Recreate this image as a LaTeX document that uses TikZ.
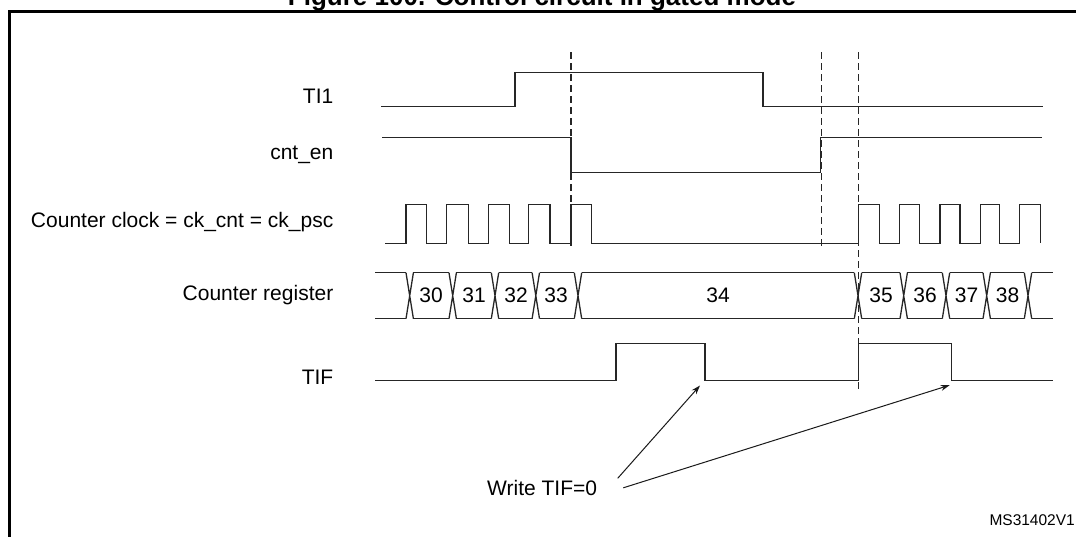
\documentclass[tikz,border=0pt]{standalone}
\usepackage{fontspec}
\setmainfont{Liberation Sans}
\usetikzlibrary{arrows.meta}
\begin{document}
\begin{tikzpicture}[x=1pt,y=-1pt,
  sig/.style={line width=1.3pt,draw=black!85,line join=miter},
  guide/.style={line width=1.2pt,draw=black!85,dash pattern=on 6.5pt off 4.5pt},
  lbl/.style={font=\fontsize{21}{24}\selectfont,inner sep=0pt,anchor=east},
  val/.style={font=\fontsize{21}{24}\selectfont,inner sep=0pt},
  note/.style={line width=1pt,draw=black!90,-{Stealth[length=9pt,width=6pt]}}]
\useasboundingbox (0,0) rectangle (1076,536);
% frame and title
\draw[line width=2.4pt] (1090,11.5) -- (9.5,11.5) -- (9.5,550);
\node[font=\fontsize{26}{30}\selectfont\bfseries,inner sep=0pt,anchor=base] (title) at (542,5) {Figure 100. Control circuit in gated mode};
% labels
\node[lbl] (lti) at (333.5,96.7) {TI1};
\node[lbl] (len) at (333.5,155) {cnt\_en};
\node[lbl] (lck) at (333.5,222.3) {Counter clock = ck\_cnt = ck\_psc};
\node[lbl] (lcr) at (333.5,295) {Counter register};
\node[lbl] (ltf) at (333.5,377.3) {TIF};
% TI1
\draw[sig] (381,106.5) -- (515,106.5) -- (515,72.3) -- (763,72.3) -- (763,106.5) -- (1043,106.5);
% cnt_en
\draw[sig] (382,137.3) -- (571,137.3) -- (571,172.3) -- (820.7,172.3) -- (820.7,137.3) -- (1041.7,137.3);
% clock
\draw[sig] (385,243.3)
  foreach \r/\f in {406/426.7,446.5/468.3,488.3/509.3,528.3/550,571/591.7}
    { -- (\r,243.3) -- (\r,204.3) -- (\f,204.3) -- (\f,243.3) }
  foreach \r/\f in {858.5/879.3,899.3/919.3,940/960,980.7/999.3,1019.3/1040.7}
    { -- (\r,243.3) -- (\r,204.3) -- (\f,204.3) -- (\f,243.3) };
% counter register
\def\ct{272.7}\def\cb{318.7}\def\hw{3.7}
\draw[sig] (375,\ct) -- (409.7-\hw,\ct) (375,\cb) -- (409.7-\hw,\cb);
\foreach \a/\b in {409.7/452.7,452.7/495,495/535.8,535.8/578,578/858,858/903.7,903.7/946,946/986.7,986.7/1028}
  \draw[sig] (\a+\hw,\ct) -- (\b-\hw,\ct) (\a+\hw,\cb) -- (\b-\hw,\cb);
\foreach \c in {409.7,452.7,495,535.8,578,858,903.7,946,986.7,1028}
  \draw[sig] (\c-\hw,\ct) -- (\c+\hw,\cb) (\c-\hw,\cb) -- (\c+\hw,\ct);
\draw[sig] (1028+\hw,\ct) -- (1053.3,\ct) (1028+\hw,\cb) -- (1053.3,\cb);
\node[val] (v30) at (431,295.7) {30};
\node[val] (v31) at (474,295.7) {31};
\node[val] (v32) at (516,295.7) {32};
\node[val] (v33) at (556,295.7) {33};
\node[val] (v34) at (718,295.7) {34};
\node[val] (v35) at (881,295.7) {35};
\node[val] (v36) at (925,295.7) {36};
\node[val] (v37) at (966.5,295.7) {37};
\node[val] (v38) at (1007.5,295.7) {38};
% TIF
\draw[sig] (375,380.7) -- (616,380.7) -- (616,343.3) -- (705,343.3) -- (705,380.7) -- (858.5,380.7) -- (858.5,343.3) -- (951.7,343.3) -- (951.7,380.7) -- (1053.3,380.7);
% dashed guides
\draw[guide] (571,52) -- (571,246);
\draw[guide] (821.5,52) -- (821.5,246);
\draw[guide] (858.5,52) -- (858.5,390);
% notes
\node[val,anchor=west] (w) at (487,488) {Write TIF=0};
\coordinate (w1) at (617.7,478.3);
\coordinate (w2) at (623.3,487.8);
\coordinate (t1) at (700,385.5);
\coordinate (t2) at (949.6,385.2);
\draw[note] (w1) -- (t1);
\draw[note] (w2) -- (t2);
\node[font=\fontsize{15.5}{18}\selectfont,inner sep=0pt,anchor=east] (ms) at (1075,520) {MS31402V1};
\end{tikzpicture}
\end{document}
